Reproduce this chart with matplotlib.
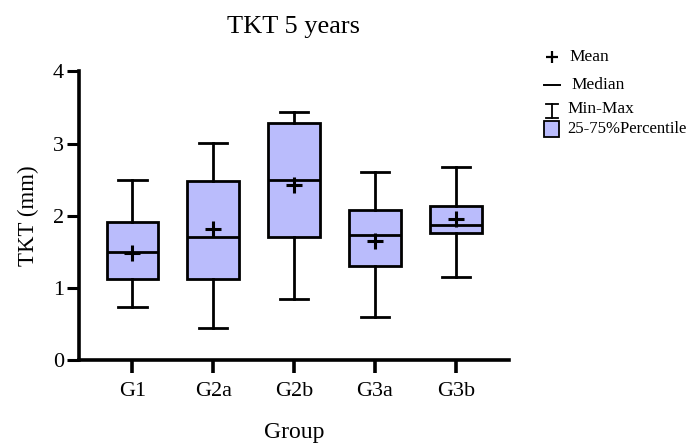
import matplotlib
matplotlib.use("Agg")
import matplotlib.pyplot as plt
from matplotlib.lines import Line2D
from matplotlib.patches import Rectangle

plt.rcParams["font.family"] = ["Liberation Serif", "DejaVu Serif"]

groups = ["G1", "G2a", "G2b", "G3a", "G3b"]
mins = [0.73, 0.45, 0.85, 0.60, 1.15]
q1 = [1.12, 1.12, 1.71, 1.31, 1.76]
medians = [1.50, 1.70, 2.50, 1.73, 1.87]
q3 = [1.92, 2.48, 3.28, 2.08, 2.14]
maxs = [2.50, 3.01, 3.44, 2.60, 2.67]
means = [1.49, 1.81, 2.43, 1.65, 1.95]

fill = "#babcfc"

fig = plt.figure(figsize=(6.88, 4.44), dpi=100)
ax = fig.add_axes([0.115, 0.189, 0.625, 0.65])

stats = []
for g, lo, a, m, b, hi in zip(groups, mins, q1, medians, q3, maxs):
    stats.append({"label": g, "whislo": lo, "q1": a, "med": m, "q3": b,
                  "whishi": hi, "fliers": []})

ax.bxp(stats, positions=range(len(groups)), widths=0.64, patch_artist=True,
       showfliers=False,
       boxprops=dict(facecolor=fill, edgecolor="black", linewidth=2),
       medianprops=dict(color="black", linewidth=2),
       whiskerprops=dict(color="black", linewidth=2),
       capprops=dict(color="black", linewidth=2), capwidths=0.35)
ax.plot(range(len(groups)), means, ls="none", marker="+", color="black",
        markersize=11, markeredgewidth=2.2, zorder=5)

ax.set_xlim(-0.66, 4.66)
ax.set_ylim(0, 4)
ax.set_yticks([0, 1, 2, 3, 4])
ax.set_xticks(range(len(groups)))
ax.set_xticklabels(groups)
for s in ["top", "right"]:
    ax.spines[s].set_visible(False)
for s in ["left", "bottom"]:
    ax.spines[s].set_linewidth(2.6)
ax.tick_params(axis="y", length=9, width=2.2, labelsize=16, pad=2)
ax.tick_params(axis="x", length=9, width=2.6, labelsize=16, pad=7)
ax.set_xlabel("Group", fontsize=17, labelpad=15)
ax.set_ylabel("TKT (mm)", fontsize=16.5, labelpad=10)
fig.text(0.427, 0.94, "TKT 5 years", fontsize=19, ha="center", va="center")

# legend drawn by hand at the right
lx, tx = 0.802, 0.828
fig.add_artist(Line2D([lx], [1 - 56.7 / 444], marker="+", color="black",
                      markersize=8, markeredgewidth=1.6, transform=fig.transFigure))
fig.text(tx, 1 - 56.7 / 444, "Mean", fontsize=12.5, va="center")
fig.add_artist(Line2D([lx - 0.012, lx + 0.012], [1 - 85 / 444] * 2, color="black",
                      linewidth=1.4, transform=fig.transFigure))
fig.text(tx + 0.003, 1 - 85 / 444, "Median", fontsize=12.5, va="center")
y0, y1 = 1 - 104 / 444, 1 - 118 / 444
fig.add_artist(Line2D([lx, lx], [y0, y1], color="black", linewidth=1.3,
                      transform=fig.transFigure))
for yy in (y0, y1):
    fig.add_artist(Line2D([lx - 0.009, lx + 0.009], [yy, yy], color="black",
                          linewidth=1.3, transform=fig.transFigure))
fig.text(tx - 0.003, 1 - 109 / 444, "Min-Max", fontsize=12.5, va="center")
fig.add_artist(Rectangle((lx - 0.012, 1 - 137 / 444), 0.023, 16 / 444,
                         facecolor=fill, edgecolor="black", linewidth=1.3,
                         transform=fig.transFigure))
fig.text(tx - 0.003, 1 - 129 / 444, "25-75%Percentile", fontsize=12, va="center")

fig.savefig("out.png", dpi=100)
